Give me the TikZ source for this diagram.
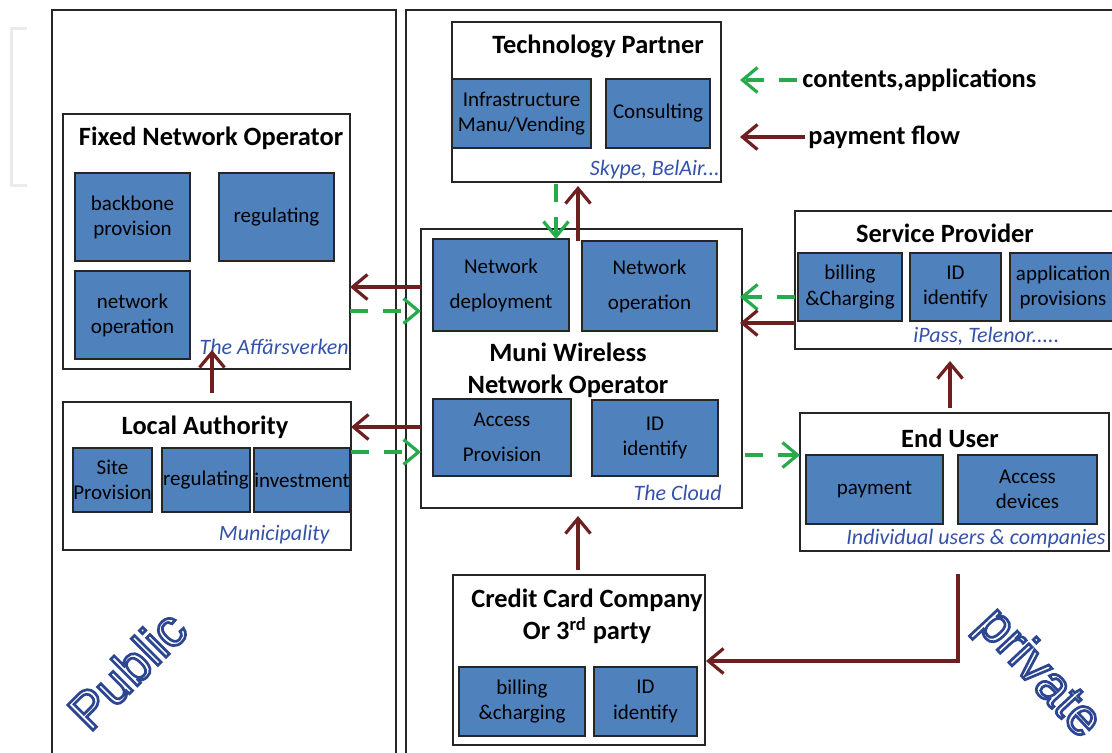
\documentclass[tikz,border=0pt]{standalone}
\usepackage{fontspec}
\setmainfont{Carlito}
\newfontfamily\hollowfont{Liberation Sans}
\usepackage{xcolor}
\definecolor{unitblue}{RGB}{79,129,189}
\definecolor{tagblue}{RGB}{52,82,170}
\definecolor{paybrown}{RGB}{110,32,32}
\definecolor{contgreen}{RGB}{38,170,75}
\usepackage{tikz}
\usetikzlibrary{arrows.meta}
\newcommand{\hollow}[1]{\special{pdf:literal direct 1 Tr 1.35 w}#1\special{pdf:literal direct 0 Tr}}
\newcommand{\boxit}[7][grp]{\node[#1,minimum width={(#5-#3)*0.5pt},minimum height={(#6-#4)*0.5pt}] (#2) at ({(#3+#5)/2},{(#4+#6)/2}) {#7};}
\tikzset{
  grp/.style={draw=black!85,line width=0.9pt,fill=white,inner sep=0pt,outer sep=0pt},
  unit/.style={draw=black!85,line width=0.9pt,fill=unitblue,inner sep=0pt,outer sep=0pt,align=center,font=\fontsize{10.5}{12.6}\selectfont},
  grptitle/.style={inner sep=0pt,align=center,font=\fontsize{13.2}{16}\selectfont\bfseries},
  tag/.style={inner sep=0pt,text=tagblue,font=\fontsize{11}{13}\selectfont\itshape},
  pay/.style={draw=paybrown,line width=1.6pt,-{Straight Barb[length=7.5pt,width=12.5pt]}},
  cont/.style={draw=contgreen,line width=1.6pt,dash pattern=on 9pt off 7.5pt,-{Straight Barb[length=7.5pt,width=12.5pt]}},
  side/.style={inner sep=0pt,text=tagblue!85!black,font=\fontsize{26}{30}\selectfont\hollowfont}
}
\begin{document}
\begin{tikzpicture}[x=0.5pt,y=-0.5pt]
\useasboundingbox (0,0) rectangle (1112,752);
\clip (0,0) rectangle (1112,752);
% ---- frames ----
\draw[black!8,line width=1.5pt] (27,28) -- (11,28) -- (11,185) -- (27,185);
\draw[black!85,line width=0.8pt] (52,10) rectangle (396,770);
\draw[black!85,line width=0.8pt] (406,10) rectangle (1130,770);
\node[side,rotate=45] (public) at (127,670) {\hollow{Public}};
\node[side,rotate=-47] (private) at (1038,674) {\hollow{private}};
% ---- public side ----
\boxit{fno}{63}{114}{350}{369}{}
\node[grptitle] (fnotitle) at (211,138) {Fixed Network Operator};
\boxit[unit]{fnoback}{75}{173}{190}{261}{backbone\\provision}
\boxit[unit]{fnoreg}{219}{173}{334}{261}{regulating}
\boxit[unit]{fnonet}{75}{271}{190}{359}{network\\operation}
\node[tag,anchor=east] (fnotag) at (349,347) {The Affärsverken};
\boxit{la}{63}{402}{351}{550}{}
\node[grptitle] (latitle) at (205,427) {Local Authority};
\boxit[unit]{lasite}{73}{448}{152}{512}{Site\\Provision}
\boxit[unit]{lareg}{162}{448}{250}{512}{regulating}
\boxit[unit]{lainv}{258}{448}{346}{512}{investment}
\node[tag,anchor=east] (latag) at (330,535) {Municipality};
% ---- private side ----
\boxit{tp}{452}{22}{721}{182}{}
\node[grptitle] (tptitle) at (598,46) {Technology Partner};
\boxit[unit]{tpinfra}{452}{79}{591}{148}{Infrastructure\\Manu/Vending}
\boxit[unit]{tpcons}{606}{79}{710}{148}{Consulting}
\node[tag,anchor=east] (tptag) at (720,170) {Skype, BelAir...};
\boxit{mw}{421}{229}{742}{508}{}
\boxit[unit]{mwdep}{433}{239}{569}{331}{Network\\[5pt]deployment}
\boxit[unit]{mwop}{582}{241}{717}{331}{Network\\[5pt]operation}
\node[grptitle] (mwtitle) at (568,370) {Muni Wireless\\Network Operator};
\boxit[unit]{mwacc}{433}{399}{571}{476}{Access\\[5pt]Provision}
\boxit[unit]{mwid}{592}{400}{718}{476}{ID\\identify}
\node[tag,anchor=east] (mwtag) at (722,493) {The Cloud};
\boxit{sp}{795}{211}{1130}{349}{}
\node[grptitle] (sptitle) at (945,233) {Service Provider};
\boxit[unit]{spbill}{798}{253}{902}{321}{billing\\\&Charging}
\boxit[unit]{spid}{910}{253}{1001}{321}{ID\\identify}
\boxit[unit]{spapp}{1010}{253}{1116}{321}{application\\provisions}
\node[tag,anchor=west] (sptag) at (913,336) {iPass, Telenor.....};
\boxit{eu}{800}{413}{1109}{551}{}
\node[grptitle] (eutitle) at (950,438) {End User};
\boxit[unit]{eupay}{806}{455}{943}{524}{payment}
\boxit[unit]{eudev}{958}{455}{1097}{524}{Access\\devices}
\node[tag,anchor=east] (eutag) at (1106,539) {Individual users \& companies};
\boxit{cc}{453}{575}{705}{745}{}
\node[grptitle] (cctitle) at (587,616) {Credit Card Company\\Or 3\textsuperscript{rd} party};
\boxit[unit]{ccbill}{459}{667}{585}{736}{billing\\\&charging}
\boxit[unit]{ccid}{594}{667}{697}{736}{ID\\identify}
% ---- legend ----
\node[grptitle,anchor=west] (legcont) at (802,80) {contents,applications};
\node[grptitle,anchor=west] (legpay) at (808,137) {payment flow};
\draw[cont] ([xshift=-2.5pt]legcont.west) -- ++(-57,0);
\draw[pay] ([xshift=-1.5pt]legpay.west) -- ++(-65,0);
% ---- flows ----
\draw[pay] ([yshift=4.5pt]la.north -| 212,0) -- ([yshift=9.5pt]fno.south -| 212,0);
\draw[pay] (mw.west |- 0,287) -- (fno.east |- 0,287);
\draw[cont] (fno.east |- 0,311) -- (mw.west |- 0,311);
\draw[pay] (mw.west |- 0,427) -- (la.east |- 0,427);
\draw[cont] (la.east |- 0,452) -- (mw.west |- 0,452);
\draw[cont] ([yshift=-1pt]tp.south -| 556,0) -- (mwdep.north -| 556,0);
\draw[pay] (mwop.north -| 578,0) -- ([yshift=-2pt]tp.south -| 578,0);
\draw[cont] (sp.west |- 0,297) -- ([xshift=-1pt]mw.east |- 0,297);
\draw[pay] (sp.west |- 0,323) -- ([xshift=-1pt]mw.east |- 0,323);
\draw[pay] ([yshift=2.5pt]eu.north -| 950,0) -- ([yshift=-6pt]sp.south -| 950,0);
\draw[cont] ([xshift=1.5pt]mw.east |- 0,455) -- (eu.west |- 0,455);
\draw[pay] ([yshift=2.5pt]cc.north -| 578,0) -- ([yshift=-4pt]mw.south -| 578,0);
\draw[pay] ([yshift=-11.5pt]eu.south -| 958,0) |- ([xshift=0.5pt]cc.east |- 0,661);
\end{tikzpicture}
\end{document}
